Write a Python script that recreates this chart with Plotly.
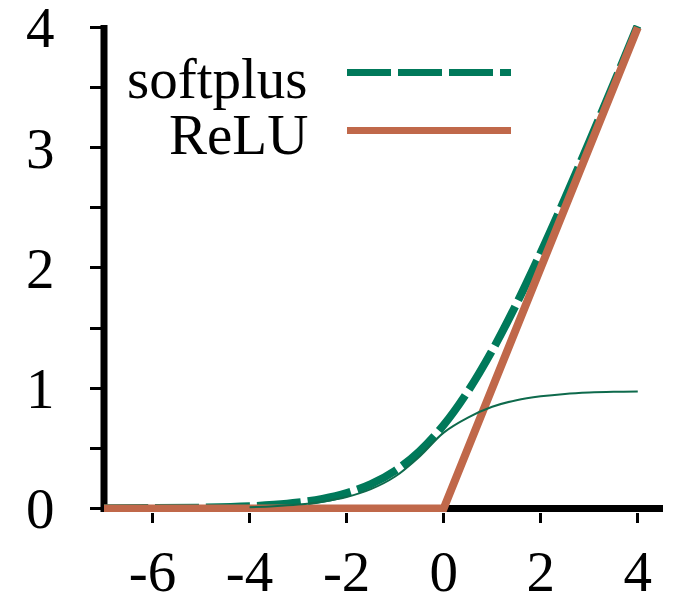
import plotly.graph_objects as go

# ---- data ----
softplus_x = [-7, -6, -5, -4, -3.5, -3, -2.5, -2, -1.5, -1, -0.5, 0, 0.5, 1, 1.5, 2, 2.5, 3, 3.5, 4]
softplus_y = [0.001, 0.0025, 0.0067, 0.018, 0.03, 0.049, 0.079, 0.127, 0.201, 0.313, 0.474, 0.693,
              0.974, 1.313, 1.701, 2.127, 2.579, 3.049, 3.530, 4.018]

relu_x = [-7, 0, 4]
relu_y = [0, 0, 4]

thin_x = [-4, -3.5, -3, -2.5, -2, -1.5, -1, -0.5, 0, 0.5, 1, 1.5, 2, 2.5, 3, 3.5, 4]
thin_y = [0.01, 0.018, 0.032, 0.056, 0.095, 0.16, 0.265, 0.43, 0.63, 0.755, 0.845, 0.90, 0.932,
          0.952, 0.963, 0.969, 0.972]

x_ticks = [-6, -4, -2, 0, 2, 4]
x_tick_text = ["-6", "-4", "-2", "0", "2", "4"]
y_ticks = [0, 1, 2, 3, 4]
legend_labels = ["softplus", "ReLU"]

GREEN = "#00795a"
ORANGE = "#c0684a"
DARK = "#0e6a4c"
FONT = "Liberation Serif, Times New Roman, serif"
FS = 57

fig = go.Figure()
fig.add_trace(go.Scatter(x=softplus_x, y=softplus_y, mode="lines", line_shape="spline",
                         line=dict(color=GREEN, width=8, dash="44px,7px"), showlegend=False))
fig.add_trace(go.Scatter(x=relu_x, y=relu_y, mode="lines",
                         line=dict(color=ORANGE, width=8), showlegend=False))
fig.add_trace(go.Scatter(x=thin_x, y=thin_y, mode="lines", line_shape="spline",
                         line=dict(color=DARK, width=2), showlegend=False))

# manual legend (text + sample lines)
L, B, PW, PH = 104, 511.6, 559, 486.6
def px2paper(x, y):
    return (x - L) / PW, (B - y) / PH

for label, ytxt, yline, color, dash in [(legend_labels[0], 78, 72.5, GREEN, "44px,7px"),
                                        (legend_labels[1], 134, 130.5, ORANGE, "solid")]:
    ax, ay = px2paper(310, ytxt)
    fig.add_annotation(x=ax, y=ay, xref="paper", yref="paper", text=label, showarrow=False,
                       xanchor="right", yanchor="middle",
                       font=dict(family=FONT, size=FS, color="black"))
    x0, y0 = px2paper(347, yline)
    x1, _ = px2paper(511, yline)
    fig.add_shape(type="line", xref="paper", yref="paper", x0=x0, x1=x1, y0=y0, y1=y0,
                  line=dict(color=color, width=7, dash=dash))

# y axis line
fig.add_shape(type="line", xref="paper", yref="paper", x0=0, x1=0, y0=0, y1=1,
              line=dict(color="black", width=7), layer="below")

fig.update_layout(
    width=679, height=604,
    margin=dict(l=L, r=679 - L - PW, t=25, b=604 - 512),
    plot_bgcolor="white", paper_bgcolor="white",
    showlegend=False,
    xaxis=dict(range=[-7.0, 4.52], tickvals=x_ticks, ticktext=x_tick_text, ticks="outside",
               ticklen=10, tickwidth=3, automargin=False, ticklabeloverflow="allow",
               tickcolor="black", showgrid=False, zeroline=False, showline=False,
               tickfont=dict(family=FONT, size=FS, color="black"), ticklabelstandoff=0),
    yaxis=dict(range=[-0.03, 4.02], tickvals=y_ticks, ticks="outside", ticklen=13, tickwidth=3,
               automargin=False, ticklabeloverflow="allow",
               tickcolor="black", showgrid=False, zeroline=True, zerolinecolor="black",
               zerolinewidth=7, showline=False,
               minor=dict(dtick=0.5, ticks="outside", ticklen=13, tickwidth=3, tickcolor="black",
                          showgrid=False),
               tickfont=dict(family=FONT, size=FS, color="black"), ticklabelstandoff=24),
)

fig.write_html("out.html")
